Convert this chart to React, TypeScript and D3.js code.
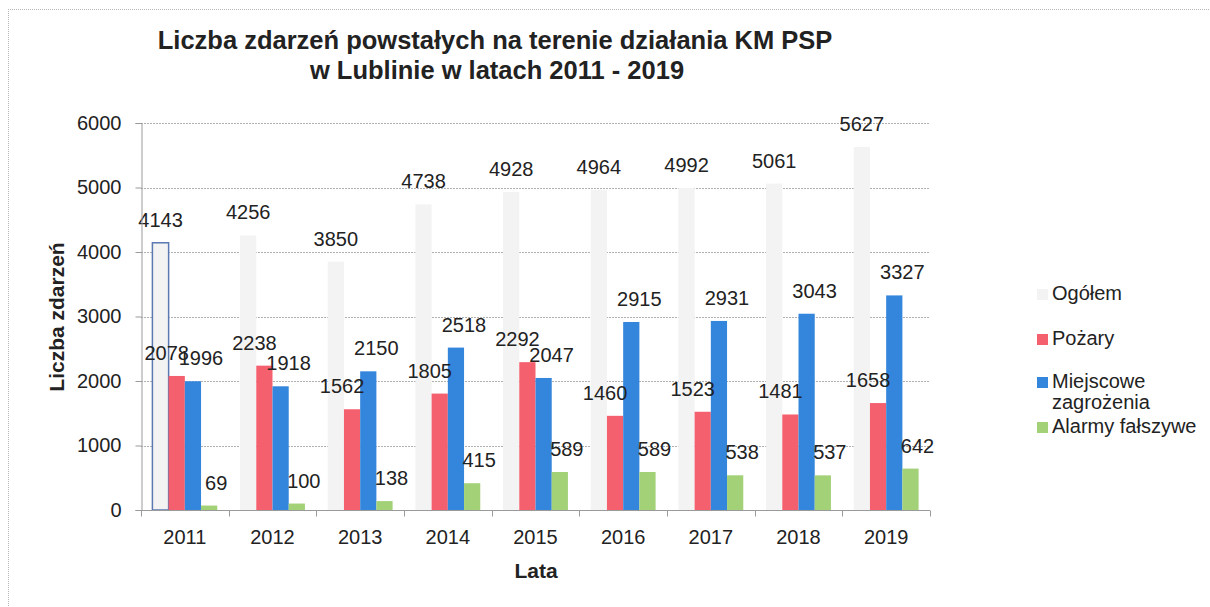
import React, { useEffect, useRef } from 'react'
import * as d3 from 'd3'

const W = 1210
const H = 607

const YEARS = ['2011', '2012', '2013', '2014', '2015', '2016', '2017', '2018', '2019']
const OGOLEM = [4143, 4256, 3850, 4738, 4928, 4964, 4992, 5061, 5627]
const POZARY = [2078, 2238, 1562, 1805, 2292, 1460, 1523, 1481, 1658]
const MIEJSCOWE = [1996, 1918, 2150, 2518, 2047, 2915, 2931, 3043, 3327]
const ALARMY = [69, 100, 138, 415, 589, 589, 538, 537, 642]
const Y_TICKS = [0, 1000, 2000, 3000, 4000, 5000, 6000]

const SERIES = [
  { key: 'ogolem', name: ['Ogółem'], values: OGOLEM, color: '#f3f3f3', dx: 0 },
  { key: 'pozary', name: ['Pożary'], values: POZARY, color: '#f5606f', dx: -10 },
  { key: 'miejscowe', name: ['Miejscowe', 'zagrożenia'], values: MIEJSCOWE, color: '#3486dc', dx: 8 },
  { key: 'alarmy', name: ['Alarmy fałszywe'], values: ALARMY, color: '#a3d177', dx: 7 },
]

const FONT = '"Liberation Sans", Arial, sans-serif'

export default function App() {
  const svgRef = useRef<SVGSVGElement>(null)

  useEffect(() => {
    const svg = d3.select(svgRef.current)
    svg.selectAll('*').remove()

    const left = 141, right = 930, top = 123, bottom = 510

    // outer frame (dotted, only left/top visible in the scan)
    svg.append('line').attr('x1', 8.5).attr('x2', 8.5).attr('y1', 9).attr('y2', H)
      .attr('stroke', '#b5b5b5').attr('stroke-dasharray', '1,1')
    svg.append('line').attr('x1', 8).attr('x2', W).attr('y1', 9.5).attr('y2', 9.5)
      .attr('stroke', '#b5b5b5').attr('stroke-dasharray', '1,1')

    // title
    const title = svg.append('text').attr('text-anchor', 'middle')
      .attr('font-family', FONT).attr('font-weight', 'bold').attr('font-size', 25.5).attr('fill', '#222')
    title.append('tspan').attr('x', 495).attr('y', 49).text('Liczba zdarzeń powstałych na terenie działania KM PSP')
    title.append('tspan').attr('x', 497).attr('y', 79).text('w Lublinie w latach 2011 - 2019')

    const x0 = d3.scaleBand().domain(YEARS).range([left, right]).paddingInner(0.26).paddingOuter(0.13)
    const x1 = d3.scaleBand().domain(SERIES.map(s => s.key)).range([0, x0.bandwidth()])
    const y = d3.scaleLinear().domain([0, 6000]).range([bottom, top])

    // gridlines
    svg.append('g').selectAll('line').data(Y_TICKS.slice(1)).join('line')
      .attr('x1', left).attr('x2', right)
      .attr('y1', d => Math.round(y(d)) + 0.5).attr('y2', d => Math.round(y(d)) + 0.5)
      .attr('stroke', '#b0b0b0').attr('stroke-width', 1).attr('stroke-dasharray', '2,1')

    // bars
    const groups = svg.append('g').selectAll('g').data(YEARS).join('g')
      .attr('transform', d => `translate(${x0(d)},0)`)

    SERIES.forEach(s => {
      groups.append('rect')
        .attr('x', x1(s.key)!)
        .attr('width', x1.bandwidth())
        .attr('y', (_, i) => y(s.values[i]))
        .attr('height', (_, i) => bottom - y(s.values[i]))
        .attr('fill', s.color)
        .attr('stroke', (_, i) => (s.key === 'ogolem' && i === 0 ? '#5a79b3' : 'none'))
        .attr('stroke-width', 1.5)
    })

    // value labels
    SERIES.forEach(s => {
      groups.append('text')
        .attr('x', x1(s.key)! + x1.bandwidth() / 2 + s.dx)
        .attr('y', (_, i) => y(s.values[i]) - 16)
        .attr('text-anchor', 'middle')
        .attr('font-family', FONT).attr('font-size', 20).attr('fill', '#222')
        .text((_, i) => s.values[i])
    })

    // y axis
    const ya = svg.append('g').attr('transform', `translate(${left + 0.5},0)`)
      .call(d3.axisLeft(y).tickValues(Y_TICKS).tickSize(6).tickPadding(14).tickFormat(d3.format('d')))
    ya.select('.domain').attr('stroke', '#9a9a9a')
    ya.selectAll('.tick line').attr('stroke', '#9a9a9a')
    ya.selectAll('.tick text').attr('font-family', FONT).attr('font-size', 20).attr('fill', '#222')

    // x axis
    const xa = svg.append('g').attr('transform', `translate(0,${bottom + 0.5})`)
    xa.append('line').attr('x1', left).attr('x2', right).attr('stroke', '#9a9a9a')
    const step = x0.step()
    xa.selectAll('line.tk').data(d3.range(YEARS.length + 1)).join('line')
      .attr('class', 'tk')
      .attr('x1', i => Math.round(left + i * step) + 0.5).attr('x2', i => Math.round(left + i * step) + 0.5)
      .attr('y1', 0).attr('y2', 6).attr('stroke', '#9a9a9a')
    xa.selectAll('text').data(YEARS).join('text')
      .attr('x', d => x0(d)! + x0.bandwidth() / 2)
      .attr('y', 33)
      .attr('text-anchor', 'middle')
      .attr('font-family', FONT).attr('font-size', 20).attr('fill', '#222')
      .text(d => d)

    // axis titles
    svg.append('text').attr('x', 536).attr('y', 578).attr('text-anchor', 'middle')
      .attr('font-family', FONT).attr('font-weight', 'bold').attr('font-size', 21).attr('fill', '#222')
      .text('Lata')
    svg.append('text').attr('transform', 'translate(64,317) rotate(-90)').attr('text-anchor', 'middle')
      .attr('font-family', FONT).attr('font-weight', 'bold').attr('font-size', 21).attr('fill', '#222')
      .text('Liczba zdarzeń')

    // legend
    const legendY = [300, 345, 388, 433]
    const lg = svg.append('g')
    SERIES.forEach((s, i) => {
      lg.append('rect').attr('x', 1037).attr('y', legendY[i] - 11).attr('width', 11).attr('height', 11)
        .attr('fill', s.color)
      const t = lg.append('text').attr('font-family', FONT).attr('font-size', 20).attr('fill', '#222')
      s.name.forEach((ln, j) => {
        t.append('tspan').attr('x', 1052).attr('y', legendY[i] + j * 21).text(ln)
      })
    })
  }, [])

  return (
    <svg
      ref={svgRef}
      width={W}
      height={H}
      style={{ position: 'absolute', left: 0, top: 0, background: '#fff' }}
    />
  )
}
